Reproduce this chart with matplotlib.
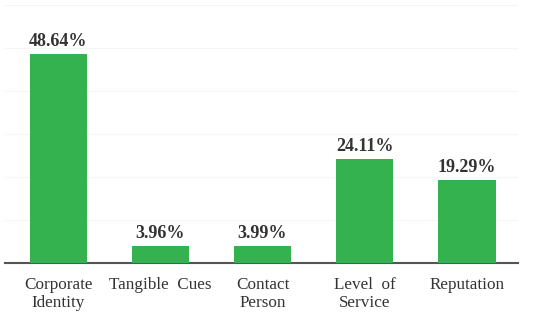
import matplotlib.pyplot as plt
import numpy as np

categories = ['Corporate\nIdentity', 'Tangible  Cues', 'Contact\nPerson', 'Level  of\nService', 'Reputation']
values = [48.64, 3.96, 3.99, 24.11, 19.29]
value_labels = ['48.64%', '3.96%', '3.99%', '24.11%', '19.29%']

plt.rcParams['font.family'] = ['Liberation Serif', 'DejaVu Serif']

fig = plt.figure(figsize=(5.52, 3.18), dpi=100)
ax = fig.add_axes([5 / 552, 55 / 318, 513 / 552, 258 / 318])

x = np.arange(len(categories))
bars = ax.bar(x, values, width=0.56, color='#34b24f', zorder=3)

for bar, lab in zip(bars, value_labels):
    ax.annotate(lab, (bar.get_x() + bar.get_width() / 2, bar.get_height()),
                xytext=(0, 3), textcoords='offset points',
                ha='center', va='bottom', fontsize=13, fontweight='bold', color='#333333')

ax.set_xlim(-0.52, 4.5)
ax.set_ylim(0, 60)
ax.set_yticks([10, 20, 30, 40, 50, 60])
ax.yaxis.grid(True, color='#f5f5f5', linewidth=0.8, zorder=0)
ax.tick_params(axis='y', left=False, labelleft=False)
ax.set_xticks(x)
ax.set_xticklabels(categories, fontsize=12.3, color='#333333', linespacing=1.2)
ax.tick_params(axis='x', length=0, pad=10)

for side in ['top', 'right', 'left']:
    ax.spines[side].set_visible(False)
ax.spines['bottom'].set_color('#555555')
ax.spines['bottom'].set_linewidth(1.5)

fig.savefig('out.png', dpi=100)
